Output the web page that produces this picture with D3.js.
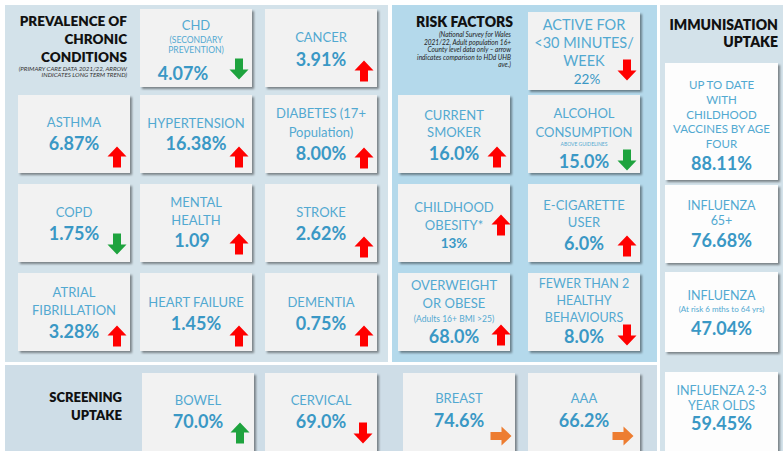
<!DOCTYPE html>
<html>
<head>
<meta charset="utf-8">
<script src="https://cdn.jsdelivr.net/npm/d3@7"></script>
<style>
html,body{margin:0;padding:0;background:#fff;}
svg{display:block;font-family:Lato,"Open Sans",sans-serif;}
</style>
</head>
<body>
<svg id="chart" width="783" height="451"></svg>
<script>
// ---------------- DATA ----------------
const chronicLabels = ["CHD","CANCER","ASTHMA","HYPERTENSION","DIABETES (17+\nPopulation)","COPD","MENTAL\nHEALTH","STROKE","ATRIAL\nFIBRILLATION","HEART FAILURE","DEMENTIA"];
const chronicNotes  = ["(SECONDARY\nPREVENTION)","","","","","","","","","",""];
const chronicValues = [4.07,3.91,6.87,16.38,8.00,1.75,1.09,2.62,3.28,1.45,0.75];
const chronicUnits  = ["%","%","%","%","%","%","","%","%","%","%"];
const chronicTrend  = ["down","up","up","up","up","down","up","up","up","up","up"];

const riskLabels = ["ACTIVE FOR\n<30 MINUTES/\nWEEK","CURRENT\nSMOKER","ALCOHOL\nCONSUMPTION","CHILDHOOD\nOBESITY*","E-CIGARETTE\nUSER","OVERWEIGHT\nOR OBESE","FEWER THAN 2\nHEALTHY\nBEHAVIOURS"];
const riskNotes  = ["","","ABOVE GUIDELINES","","","(Adults 16+ BMI >25)",""];
const riskValues = [22,16.0,15.0,13,6.0,68.0,8.0];
const riskDecimals = [0,1,1,0,1,1,1];
const riskTrend  = ["down","up","down","up","up","up","down"];

const immLabels = ["UP TO DATE\nWITH\nCHILDHOOD\nVACCINES BY AGE\nFOUR","INFLUENZA\n65+","INFLUENZA","INFLUENZA 2-3\nYEAR OLDS"];
const immNotes  = ["","","(At risk 6 mths to 64 yrs)",""];
const immValues = [88.11,76.68,47.04,59.45];

const screenLabels = ["BOWEL","CERVICAL","BREAST","AAA"];
const screenValues = [70.0,69.0,74.6,66.2];
const screenTrend  = ["up","down","right","right"];

const titles = {
  chronic: ["PREVALENCE OF","CHRONIC","CONDITIONS"],
  chronicSub: ["(PRIMARY CARE DATA 2021/22, ARROW","INDICATES LONG TERM TREND)"],
  risk: ["RISK FACTORS"],
  riskSub: ["(National Survey for Wales","2021/22, Adult population 16+","County level data only \u2013 arrow","indicates comparison to HDd UHB","ave.)"],
  imm: ["IMMUNISATION","UPTAKE"],
  screen: ["SCREENING","UPTAKE"]
};

// ---------------- STYLE / LAYOUT ----------------
const C = {
  chronicBg:"#d3e2ea", riskBg:"#b4d9eb", immBg:"#d3e2ea", screenBg:"#cedde7",
  card:"#f2f2f2", immCard:"#fdfdfd", label:"#52a9d1", value:"#3a98c5",
  up:"#ff0000", down:"#ff0000", good:"#1ea33e", flat:"#ed7d31", head:"#111"
};

const svg = d3.select("#chart");
const defs = svg.append("defs");
const f = defs.append("filter").attr("id","sh").attr("x","-10%").attr("y","-10%").attr("width","130%").attr("height","130%");
f.append("feDropShadow").attr("dx",2).attr("dy",2).attr("stdDeviation",1.3)
 .attr("flood-color","#000").attr("flood-opacity",0.42);

svg.append("rect").attr("width",783).attr("height",451).attr("fill","#fff");

// panels
const panels = [
  {x:5,y:5,w:383,h:357,fill:C.chronicBg},
  {x:392,y:5,w:265,h:357,fill:C.riskBg},
  {x:660,y:5,w:123,h:446,fill:C.immBg},
  {x:5,y:365,w:652,h:86,fill:C.screenBg}
];
svg.selectAll("rect.panel").data(panels).join("rect").attr("class","panel")
  .attr("x",d=>d.x).attr("y",d=>d.y).attr("width",d=>d.w).attr("height",d=>d.h).attr("fill",d=>d.fill);

// grid scales
const chronicCol = d3.scaleOrdinal().domain([0,1,2]).range([18,140,265]);
const chronicRow = d3.scaleOrdinal().domain([0,1,2,3]).range([9,95,184,273]);
const riskCol = d3.scaleOrdinal().domain([0,1]).range([398,528]);
const riskRow = d3.scaleOrdinal().domain([0,1,2,3]).range([12,95,184,273]);
const screenCol = d3.scaleOrdinal().domain([0,1,2,3]).range([142,265,403,528]);

const chronicLayout = [
  {c:1,r:0,ly:21,ny:34,nlh:10,nfs:8.5,vy:71,vdx:-13,ay:60},
  {c:2,r:0,ly:33,vy:57,ay:62},
  {c:0,r:1,ly:32,vy:55,ay:62},
  {c:1,r:1,ly:33,vy:55,ay:62},
  {c:2,r:1,ly:23,lh:19,vy:65,ay:63},
  {c:0,r:2,ly:33,vy:56,ay:60},
  {c:1,r:2,ly:23,vy:63,vdx:-4,ay:60},
  {c:2,r:2,ly:33,vy:56,ay:63},
  {c:0,r:3,ly:24,vy:65,ay:63},
  {c:1,r:3,ly:34,vy:57,ay:63},
  {c:2,r:3,ly:34,vy:57,ay:63}
];
const riskLayout = [
  {c:1,r:0,ly:18,lh:18,lfs:14.5,vy:72,vfs:13.5,vw:400,vdx:3,ay:58},
  {c:0,r:1,ly:25,lh:17,vy:65,ay:62},
  {c:1,r:1,ly:23,lh:19,ny:51,nfs:5,vy:73,ay:65},
  {c:0,r:2,ly:28,lh:18,vy:64,vfs:13.5,ay:41,ax:103},
  {c:1,r:2,ly:26,lh:17,vy:66,ay:62},
  {c:0,r:3,ly:17,lh:18,ny:49,nfs:8.5,vy:70,ay:62,ax:103},
  {c:1,r:3,ly:15,lh:17,lfs:12.5,vy:70,ay:62}
];
const immTops = d3.scaleOrdinal().domain([0,1,2,3]).range([63,185,272,372]);
const immLayout = [
  {h:117,ly:26,lh:14.8,lfs:11.5,vy:107},
  {h:78,ly:25,lh:15,lfs:12.5,vy:62},
  {h:80,ly:28,lfs:12.5,ny:40,nfs:8,vy:63},
  {h:85,ly:23,lh:15,lfs:12.5,vy:58}
];
const screenLayout = [
  {ly:32,vy:55,ay:60,ax:98},
  {ly:32,vy:55,ay:60,ax:98},
  {ly:30,vy:54,ay:63,ax:98},
  {ly:30,vy:54,ay:63,ax:95}
];

function arrowPath(){
  const w=19,h=21,sw=8,hh=10;
  return d3.line()([[0,-h/2],[w/2,-h/2+hh],[sw/2,-h/2+hh],[sw/2,h/2],[-sw/2,h/2],[-sw/2,-h/2+hh],[-w/2,-h/2+hh]]) + "Z";
}
const rot = {up:0, down:180, right:90};

function drawCard(g, o){
  const L = o.layout;
  const cg = g.append("g").attr("transform",`translate(${o.x},${o.y})`);
  cg.append("rect").attr("width",o.w).attr("height",o.h).attr("fill",o.fill).attr("filter","url(#sh)");
  const cx = o.w/2;
  const lines = o.label.split("\n");
  const lh = L.lh||18, lfs = L.lfs||13;
  cg.selectAll("text.lbl").data(lines).join("text").attr("class","lbl")
    .attr("x",cx).attr("y",(d,i)=>L.ly+i*lh).attr("text-anchor","middle")
    .attr("font-size",lfs).attr("fill",C.label).text(d=>d);
  if(o.note){
    const nl = o.note.split("\n");
    const ny = L.ny!=null ? L.ny : L.ly + lines.length*lh;
    cg.selectAll("text.note").data(nl).join("text").attr("class","note")
      .attr("x",cx).attr("y",(d,i)=>ny+i*(L.nlh||10)).attr("text-anchor","middle")
      .attr("font-size",L.nfs||8).attr("fill",C.label).text(d=>d);
  }
  cg.append("text").attr("x",cx+(L.vdx||0)).attr("y",L.vy).attr("text-anchor","middle")
    .attr("font-size",L.vfs||18).attr("font-weight",L.vw||700).attr("fill",C.value).text(o.value);
  if(o.trend){
    cg.append("path").attr("d",arrowPath())
      .attr("transform",`translate(${L.ax||99},${L.ay}) rotate(${rot[o.trend]})`)
      .attr("fill",o.arrowColor);
  }
}

const cards = svg.append("g");
chronicLabels.forEach((lab,i)=>{
  const L = chronicLayout[i];
  drawCard(cards,{x:chronicCol(L.c),y:chronicRow(L.r),w:112,h:78,fill:C.card,label:lab,note:chronicNotes[i],
    value:d3.format(".2f")(chronicValues[i])+chronicUnits[i],trend:chronicTrend[i],
    arrowColor:chronicTrend[i]==="down"?C.good:C.up,layout:L});
});
riskLabels.forEach((lab,i)=>{
  const L = riskLayout[i];
  drawCard(cards,{x:riskCol(L.c),y:riskRow(L.r),w:112,h:78,fill:C.card,label:lab,note:riskNotes[i],
    value:d3.format("."+riskDecimals[i]+"f")(riskValues[i])+"%",trend:riskTrend[i],
    arrowColor:(i===2)?C.good:C.up,layout:L});
});
immLabels.forEach((lab,i)=>{
  const L = immLayout[i];
  drawCard(cards,{x:665,y:immTops(i),w:113,h:L.h,fill:C.immCard,label:lab,note:immNotes[i],
    value:d3.format(".2f")(immValues[i])+"%",trend:null,layout:L});
});
screenLabels.forEach((lab,i)=>{
  const L = screenLayout[i];
  drawCard(cards,{x:screenCol(i),y:373,w:112,h:90,fill:C.card,label:lab,note:"",
    value:d3.format(".1f")(screenValues[i])+"%",trend:screenTrend[i],
    arrowColor:screenTrend[i]==="up"?C.good:(screenTrend[i]==="down"?C.down:C.flat),layout:L});
});

function heading(lines, x, y0, lh, fs, weight, style, color){
  svg.append("g").selectAll("text").data(lines).join("text")
    .attr("x",x).attr("y",(d,i)=>y0+i*lh).attr("text-anchor","end")
    .attr("font-size",fs).attr("font-weight",weight).attr("font-style",style).attr("fill",color).text(d=>d);
}
heading(titles.chronic,127,26,18,13.5,800,"normal",C.head);
heading(titles.chronicSub,127,71,6,6.2,400,"italic","#333");
heading(titles.risk,513,27,0,14,800,"normal",C.head);
heading(titles.riskSub,511,37,7.6,6.6,400,"italic","#222");
heading(titles.imm,778,30,17,14,800,"normal",C.head);
heading(titles.screen,122,402,18,13,800,"normal",C.head);
</script>
</body>
</html>
